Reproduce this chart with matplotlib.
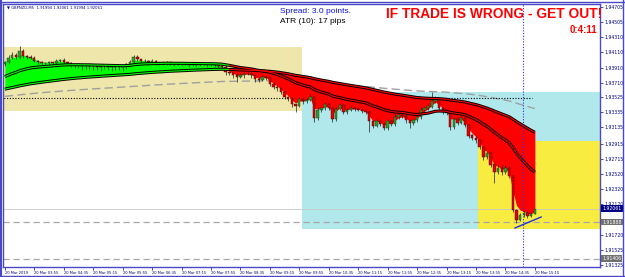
import numpy as np
import matplotlib
matplotlib.use("Agg")
import matplotlib.pyplot as plt
from matplotlib.patches import Rectangle

plt.rcParams['font.family'] = ['DejaVu Sans']

# GBPNZD M5, 20 Mar 2019
first_open = 1.9396
closes = [
    1.9398, 1.9404, 1.9408, 1.9405, 1.9412, 1.9406, 1.9405, 1.9404, 1.9400, 1.9398, 1.9397,
    1.9397, 1.9398, 1.9397, 1.9400, 1.9401, 1.9398, 1.9397,
    1.9396, 1.9395, 1.9395, 1.9393, 1.9395, 1.9393, 1.9393, 1.9392, 1.9393, 1.9393, 1.9392, 1.9393,
    1.9392, 1.9392, 1.9393, 1.9395,
    1.9398, 1.9405, 1.9402, 1.9400,
    1.9400, 1.9398, 1.9400, 1.9398, 1.9398,
    1.9397, 1.9398, 1.9397, 1.9396, 1.9397, 1.9396, 1.9396, 1.9395, 1.9396, 1.9395, 1.9396,
    1.9396, 1.9395, 1.9396, 1.9395, 1.9393, 1.9392,
    1.9385, 1.9384, 1.9381, 1.9379, 1.9381, 1.9383, 1.9383, 1.9381, 1.9376, 1.9375,
    1.9379, 1.9378, 1.9370, 1.9366, 1.9364, 1.9359, 1.9353, 1.9350, 1.9343, 1.9341,
    1.9350, 1.9347, 1.9349, 1.9353, 1.9325, 1.9336, 1.9338, 1.9343, 1.9338, 1.9324,
    1.9337, 1.9342, 1.9333, 1.9336, 1.9338, 1.9337, 1.9336, 1.9334, 1.9333, 1.9321,
    1.9315, 1.9321, 1.9317, 1.9312, 1.9321, 1.9317, 1.9326, 1.9329, 1.9328, 1.9322,
    1.9319, 1.9322, 1.9326, 1.9336, 1.9338, 1.9340, 1.9347, 1.9350, 1.9338, 1.9333,
    1.9332, 1.9313, 1.9324, 1.9319, 1.9325, 1.9316, 1.9302, 1.9299, 1.9296, 1.9287,
    1.9274, 1.9279, 1.9264, 1.9254, 1.9260, 1.9254, 1.9260, 1.9249, 1.9205, 1.9192,
    1.9198, 1.9201, 1.9197, 1.91994, 1.92061,
]
# wick lengths in pips
upper_wick = [
    2, 3, 4, 2, 7, 3, 2, 2, 2, 1, 2,
    2, 2, 1, 2, 2, 3, 1,
    1, 1, 2, 1, 1, 1, 2, 1, 1, 1, 1, 2, 1, 1, 1, 2,
    3, 3, 2, 1,
    2, 1, 2, 1, 1,
    1, 2, 1, 1, 2, 1, 1, 1, 2, 1, 1,
    1, 1, 2, 1, 1, 1,
    2, 2, 1, 3, 3, 2, 2, 2, 1, 2, 3, 2, 1, 2, 2, 1, 2, 1, 2, 1,
    3, 2, 2, 3, 1, 3, 2, 3, 2, 1, 3, 3, 2, 2, 3, 2, 2, 2, 2, 1,
    2, 3, 2, 1, 3, 2, 4, 3, 2, 2, 1, 2, 3, 4, 3, 3, 12, 4, 2, 2,
    2, 1, 3, 2, 3, 2, 1, 2, 2, 1, 1, 3, 2, 1, 3, 3, 3, 2, 1, 1,
    3, 3, 2, 2, 0,
]
lower_wick = [
    3, 2, 2, 2, 3, 2, 2, 2, 2, 2, 2,
    2, 2, 2, 2, 2, 2, 3,
    4, 5, 4, 5, 4, 4, 5, 4, 5, 4, 4, 5, 4, 4, 5, 4,
    2, 2, 2, 3,
    2, 3, 2, 3, 3,
    2, 3, 2, 3, 2, 3, 2, 3, 2, 3, 2,
    2, 3, 2, 3, 2, 3,
    3, 3, 3, 7, 2, 3, 2, 3, 4, 3, 2, 3, 3, 3, 4, 3, 3, 3, 3, 8,
    2, 3, 2, 2, 5, 2, 3, 2, 3, 4, 3, 2, 3, 3, 2, 3, 2, 3, 3, 14,
    3, 2, 3, 3, 2, 3, 2, 2, 3, 3, 7, 3, 2, 2, 2, 2, 2, 2, 3, 3,
    3, 4, 2, 3, 2, 3, 3, 3, 4, 3, 4, 2, 3, 14, 2, 3, 2, 3, 3, 4,
    2, 2, 3, 2, 0,
]

time_labels = ["20 Mar 2019", "20 Mar 03:55", "20 Mar 04:35", "20 Mar 05:15", "20 Mar 05:55",
               "20 Mar 06:35", "20 Mar 07:15", "20 Mar 07:55", "20 Mar 08:35", "20 Mar 09:15",
               "20 Mar 09:55", "20 Mar 10:35", "20 Mar 11:15", "20 Mar 11:55", "20 Mar 12:35",
               "20 Mar 13:15", "20 Mar 13:55", "20 Mar 14:35", "20 Mar 15:15"]
price_ticks = [1.94705, 1.94505, 1.94310, 1.94110, 1.93910, 1.93710, 1.93525, 1.93335, 1.93135,
               1.92915, 1.92715, 1.92520, 1.92320, 1.92120, 1.91720, 1.91525, 1.91325]

# indicator settings / seeds (values of the averages where the window starts)
fast_n, fast_seed = 26, 1.9378
slow_n, slow_seed = 80, 1.9362
long_n, long_seed = 200, 1.9353
edge_n = 3

# chart objects: (bar from, bar to, price top, price bottom)
zone_khaki = (-2, 80.7, 1.94181, 1.93343)
zone_cyan = (80.7, 170, 1.93592, 1.91797)
zone_yellow = (128.5, 170, 1.92950, 1.91797)
trend_x = [138.6, 145.7]
trend_y = [1.91810, 1.91954]
vline_bar = 140.8
dotted_level = 1.9351
dotted_end = 143.2
bid = 1.92061
dash_levels = [1.91888, 1.91406]


def ema(vals, n, seed):
    a = 2.0 / (n + 1)
    out = []
    v = seed
    for c in vals:
        v = v + a * (c - v)
        out.append(v)
    return np.array(out)


c = np.array(closes)
o = np.array([first_open] + closes[:-1])
h = np.maximum(o, c) + np.array(upper_wick) * 0.0001
l = np.minimum(o, c) - np.array(lower_wick) * 0.0001
x = np.arange(len(c))

fast = ema(c, fast_n, fast_seed)
slow = ema(c, slow_n, slow_seed)
longma = ema(c, long_n, long_seed)
edge = ema(c, edge_n, c[0])
above = edge >= slow

fig = plt.figure(figsize=(6.25, 2.77), dpi=100)
ax = fig.add_axes([3 / 625, 10 / 277, 597 / 625, 263 / 277])
ax.set_xlim(-0.5, 161.7)
ax.set_ylim(1.91299, 1.94744)

# zones
for (x0, x1, top, bot), col in [(zone_khaki, '#EEE6AA'), (zone_cyan, '#B0E8EC'), (zone_yellow, '#F8EC40')]:
    ax.add_patch(Rectangle((x0, bot), x1 - x0, top - bot, fc=col, ec='none', zorder=0))

# long average and levels
ax.plot(x, longma, color='#A0A0A0', lw=1.0, dashes=(6, 3), zorder=1)
ax.hlines(dotted_level, -1, dotted_end, color='black', lw=0.8, linestyles=(0, (1, 1.5)), zorder=1)
for lv in dash_levels:
    ax.axhline(lv, color='#A8A8A8', lw=0.9, dashes=(5, 3), zorder=1)
ax.axhline(bid, color='#C8C8C8', lw=0.6, zorder=1)

# band between slow average and price
ax.fill_between(x, edge, slow, where=above, interpolate=True, color='#00FF00', lw=0, zorder=2)
ax.fill_between(x, edge, slow, where=~above, interpolate=True, color='#FF0000', lw=0, zorder=2)

# candles
up = c >= o
ax.vlines(x, l, h, color='#202020', lw=0.5, zorder=3)
ax.bar(x[up], (c - o)[up] + 0.00002, bottom=o[up], width=0.65, color='#2E9E2E', edgecolor='#0A3A0A', lw=0.3, zorder=4)
ax.bar(x[~up], (o - c)[~up] + 0.00002, bottom=c[~up], width=0.65, color='#E80000', edgecolor='#300000', lw=0.3, zorder=4)

# averages drawn as double lines
grow = above.copy()
grow[1:] |= above[:-1]
rrow = ~above
rrow[1:] |= ~above[:-1]
for ma in (fast, slow):
    ax.plot(x, ma, color='black', lw=2.2, zorder=5, solid_capstyle='butt')
    ax.plot(x, np.where(grow, ma, np.nan), color='#00FF00', lw=0.8, zorder=6)
    ax.plot(x, np.where(rrow, ma, np.nan), color='#FF0000', lw=0.8, zorder=6)

ax.plot(trend_x, trend_y, color='#2030E0', lw=1.0, zorder=7)
ax.axvline(vline_bar, color='#3030E0', lw=0.8, ls=(0, (1, 1.5)), zorder=7)

# axes styling
for s in ax.spines.values():
    s.set_color('#4848C8')
    s.set_linewidth(1.0)
ax.yaxis.tick_right()
ax.set_yticks(price_ticks)
ax.set_yticklabels([f"{p:.5f}" for p in price_ticks])
ax.set_xticks(np.arange(len(time_labels)) * 8)
ax.set_xticklabels(time_labels, ha='left')
ax.tick_params(axis='both', colors='#000080', length=2, width=0.5, pad=1)
ax.tick_params(axis='y', labelsize=3.3, pad=1.5)
ax.tick_params(axis='x', labelsize=2.6)

# price boxes on the scale
box_txt = [(bid, '#000080'), (dash_levels[0], '#707070'), (dash_levels[1], '#707070')]
for lv, col in box_txt:
    ax.text(1.004, lv, f"{lv:.5f}", transform=ax.get_yaxis_transform(), ha='left', va='center',
            fontsize=3.3, color='white', bbox=dict(boxstyle='square,pad=0.2', fc=col, ec='none'),
            clip_on=False, zorder=10)

# texts
ax.text(0.007, 0.985, "\u25bc GBPNZD,M5  1.91994 1.92061 1.91994 1.92061", transform=ax.transAxes,
        fontsize=2.7, color='#000080', va='center', ha='left')
ax.text(0.464, 0.97, "Spread: 3.0 points.", transform=ax.transAxes, fontsize=6,
        color='#1010E0', va='center', ha='left', family=['Liberation Sans'])
ax.text(0.464, 0.935, "ATR (10): 17 pips", transform=ax.transAxes, fontsize=6,
        color='black', va='center', ha='left', family=['Liberation Sans'])
ax.text(1.004, 0.962, "IF TRADE IS WRONG - GET OUT!", transform=ax.transAxes, fontsize=9.9,
        color='#FF0000', fontweight='bold', va='center', ha='right', family=['Liberation Sans'])
ax.text(0.995, 0.901, "0:4:11", transform=ax.transAxes, fontsize=7,
        color='#FF0000', fontweight='bold', va='center', ha='right', family=['Liberation Sans'])

# window frame
fig.add_artist(plt.Line2D([0, 1], [1 - 1.5 / 277, 1 - 1.5 / 277], color='#4848C8', lw=1.0))
fig.add_artist(plt.Line2D([1 / 625, 1 / 625], [0, 1], color='#4848C8', lw=1.5))
fig.add_artist(plt.Line2D([623 / 625, 623 / 625], [0, 1], color='#4848C8', lw=1.0))
fig.add_artist(plt.Line2D([0, 1], [1 / 277, 1 / 277], color='#4848C8', lw=1.0))

fig.savefig('out.png', dpi=100)
